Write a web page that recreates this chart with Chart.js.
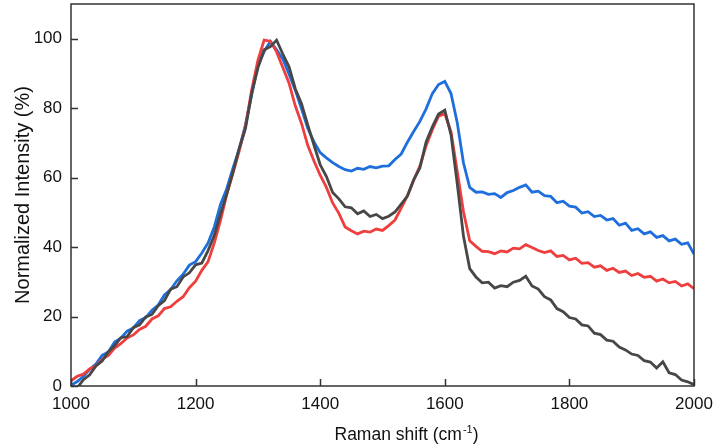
<!DOCTYPE html>
<html>
<head>
<meta charset="utf-8">
<script src="https://cdn.jsdelivr.net/npm/chart.js@4.4.1/dist/chart.umd.min.js"></script>
<style>
    html, body { margin: 0; padding: 0; background: #fff; }
    #wrap { width: 714px; height: 446px; position: relative; }
</style>
</head>
<body>
<div id="wrap"><canvas id="ramanChart"></canvas></div>
<script>
// Raman shift (cm-1), paso de 10
const ramanShift = [];
for (let v = 1000; v <= 2000; v += 10) ramanShift.push(v);

const muestraGris = [
    -1, -0.5, 1.8, 3.2, 5.8, 7.2, 9.9, 11.6, 13.9, 14.2,
    16.8, 17.6, 19.9, 20.6, 23.1, 24.6, 27.9, 28.6, 31.4, 32.6,
    34.9, 35.4, 39.0, 43.4, 49.6, 55.3, 61.6, 68.4, 74.1, 84.3,
    91.6, 96.8, 97.7, 99.6, 95.6, 91.9, 85.6, 81.3, 75.2, 69.4,
    63.7, 60.3, 55.7, 53.9, 51.6, 51.3, 49.6, 50.4, 48.8, 49.4,
    48.2, 48.9, 50.1, 52.4, 54.7, 59.4, 62.8, 70.3, 74.6, 78.3,
    79.4, 72.3, 58.2, 43.1, 33.8, 31.4, 29.7, 29.9, 28.2, 28.9,
    28.6, 29.9, 30.4, 31.6, 28.8, 27.9, 25.7, 24.8, 22.3, 21.4,
    19.7, 19.3, 17.6, 17.3, 15.2, 14.8, 13.2, 12.9, 11.2, 10.4,
    9.2, 8.8, 7.3, 6.9, 5.2, 7.0, 3.8, 3.3, 1.7, 1.2,
    0.4
];

const muestraRoja = [
    1.5, 2.8, 3.4, 4.9, 5.8, 7.7, 8.8, 10.9, 12.2, 13.8,
    14.7, 16.3, 17.2, 19.3, 20.2, 22.3, 22.8, 24.4, 25.7, 28.3,
    30.2, 33.3, 35.8, 41.2, 47.7, 55.2, 61.3, 67.7, 74.8, 85.2,
    93.8, 99.6, 99.3, 96.2, 91.7, 87.2, 80.7, 75.6, 69.3, 64.8,
    60.7, 57.2, 52.7, 49.7, 45.8, 44.7, 43.8, 44.6, 44.3, 45.2,
    44.8, 46.2, 47.8, 51.2, 54.8, 59.2, 63.3, 69.2, 73.8, 77.7,
    78.4, 73.2, 61.8, 50.2, 41.8, 40.2, 38.8, 38.7, 38.1, 38.9,
    38.6, 39.7, 39.5, 40.7, 39.9, 39.0, 38.4, 38.9, 37.3, 37.6,
    36.3, 36.8, 35.3, 35.5, 34.2, 34.6, 33.3, 33.9, 32.7, 33.1,
    31.8, 32.4, 31.3, 31.6, 30.2, 30.8, 29.7, 30.1, 28.8, 29.4,
    28.0
];

const muestraAzul = [
    0.2, 1.3, 2.8, 4.8, 6.3, 8.8, 9.8, 12.7, 13.8, 15.8,
    16.7, 18.8, 19.7, 21.8, 23.3, 26.2, 27.8, 30.3, 32.2, 34.8,
    35.8, 38.3, 41.2, 45.8, 52.3, 56.8, 62.7, 68.3, 75.2, 83.8,
    92.2, 96.3, 99.2, 96.8, 94.2, 89.8, 85.2, 79.8, 74.2, 70.3,
    67.2, 65.7, 64.3, 63.2, 62.3, 61.9, 62.7, 62.4, 63.2, 62.8,
    63.3, 63.4, 65.2, 66.8, 70.2, 73.3, 76.2, 79.8, 84.2, 86.8,
    87.7, 84.2, 75.8, 64.2, 57.2, 55.8, 55.9, 55.2, 55.4, 54.3,
    55.7, 56.3, 57.2, 57.9, 55.8, 56.1, 54.8, 54.6, 52.8, 53.2,
    51.8, 51.5, 49.8, 50.2, 48.8, 49.1, 47.8, 48.2, 46.3, 46.9,
    44.8, 45.3, 43.8, 44.4, 42.8, 43.3, 41.8, 42.3, 40.8, 41.2,
    38.0
];

const ticksX = [1000, 1200, 1400, 1600, 1800, 2000];
const ticksY = [0, 20, 40, 60, 80, 100];

const fuente = "'Liberation Sans', Arial, sans-serif";

// marco, ticks hacia adentro y titulo del eje X con superindice
const marcoPlugin = {
    id: 'marco',
    afterDraw(chart) {
        const ctx = chart.ctx;
        const a = chart.chartArea;
        const sx = chart.scales.x;
        const sy = chart.scales.y;
        ctx.save();
        ctx.strokeStyle = '#333';
        ctx.lineWidth = 1.5;
        ctx.strokeRect(a.left, a.top, a.right - a.left, a.bottom - a.top);
        ctx.beginPath();
        ticksX.forEach(t => {
            const px = Math.round(sx.getPixelForValue(t)) + 0.5;
            ctx.moveTo(px, a.bottom);
            ctx.lineTo(px, a.bottom - 7);
        });
        ticksY.forEach(t => {
            const py = Math.round(sy.getPixelForValue(t)) + 0.5;
            ctx.moveTo(a.left, py);
            ctx.lineTo(a.left + 7, py);
        });
        ctx.stroke();

        // titulo X
        ctx.fillStyle = '#111';
        ctx.textBaseline = 'alphabetic';
        const base = "Raman shift (cm";
        const sup = "-1";
        const fin = ")";
        ctx.font = "17.5px " + fuente;
        const w1 = ctx.measureText(base).width;
        const w3 = ctx.measureText(fin).width;
        ctx.font = "11px " + fuente;
        const w2 = ctx.measureText(sup).width;
        const total = w1 + w2 + w3;
        const cx = 406;
        let x0 = cx - total / 2;
        const y0 = 440;
        ctx.font = "17.5px " + fuente;
        ctx.textAlign = 'left';
        ctx.fillText(base, x0, y0);
        ctx.font = "11px " + fuente;
        ctx.fillText(sup, x0 + w1 + 1, y0 - 7);
        ctx.font = "17.5px " + fuente;
        ctx.fillText(fin, x0 + w1 + w2 + 1, y0);
        ctx.restore();
    }
};

function crearGraficoRaman() {
    const ctx = document.getElementById('ramanChart').getContext('2d');

    const datos = {
        labels: ramanShift,
        datasets: [
            { label: 'Gris', data: muestraGris, borderColor: '#474747' },
            { label: 'Roja', data: muestraRoja, borderColor: '#ef3e3e' },
            { label: 'Azul', data: muestraAzul, borderColor: '#1e6fdc' }
        ].map(d => Object.assign(d, {
            data: d.data.map((y, i) => ({ x: ramanShift[i], y: y })),
            borderWidth: 2.8,
            pointRadius: 0,
            tension: 0,
            fill: false
        }))
    };

    new Chart(ctx, {
        type: 'line',
        data: datos,
        options: {
            responsive: true,
            maintainAspectRatio: false,
            animation: false,
            events: [],
            layout: { padding: { left: 0, right: 20, top: 4, bottom: 0 } },
            plugins: {
                legend: { display: false },
                tooltip: { enabled: false }
            },
            scales: {
                x: {
                    type: 'linear',
                    min: 1000,
                    max: 2000,
                    afterBuildTicks: s => { s.ticks = ticksX.map(v => ({ value: v })); },
                    afterFit: s => {
                        s.height = 60;
                        s.paddingLeft = 0;
                        s.paddingRight = 0;
                    },
                    grid: { display: false, drawTicks: false },
                    border: { display: false },
                    ticks: {
                        padding: 8,
                        maxRotation: 0,
                        color: '#111',
                        font: { family: fuente, size: 17 },
                        callback: v => v
                    }
                },
                y: {
                    min: 0,
                    max: 110,
                    afterBuildTicks: s => { s.ticks = ticksY.map(v => ({ value: v })); },
                    afterFit: s => {
                        s.width = 71;
                        s.paddingTop = 0;
                        s.paddingBottom = 0;
                    },
                    grid: { display: false, drawTicks: false },
                    border: { display: false },
                    title: {
                        display: true,
                        text: 'Normalized Intensity (%)',
                        color: '#111',
                        font: { family: fuente, size: 20 },
                        padding: { top: 11, bottom: 0 }
                    },
                    ticks: {
                        padding: 9,
                        color: '#111',
                        font: { family: fuente, size: 17 }
                    }
                }
            }
        },
        plugins: [marcoPlugin]
    });
}

crearGraficoRaman();
</script>
</body>
</html>
